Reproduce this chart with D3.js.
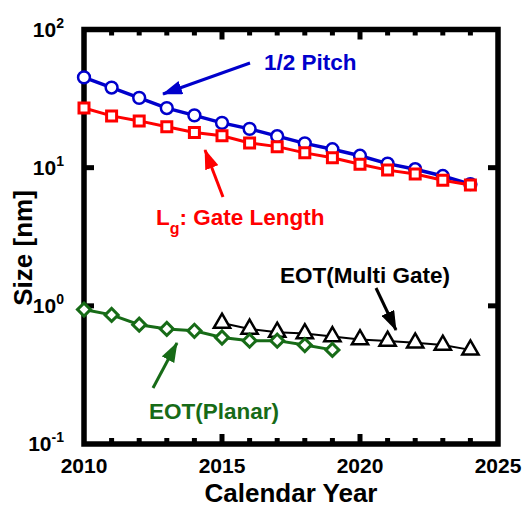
<!DOCTYPE html>
<html><head><meta charset="utf-8">
<script src="https://cdn.jsdelivr.net/npm/d3@7"></script>
<style>html,body{margin:0;padding:0;background:#fff;}svg{display:block;font-family:"Liberation Sans",Arial,sans-serif;font-weight:bold;}</style>
</head><body>
<svg id="c" width="525" height="509"></svg>
<script>
const years = [2010,2011,2012,2013,2014,2015,2016,2017,2018,2019,2020,2021,2022,2023,2024];
const halfPitch = [45,38,32,27,23.9,21.1,19.1,16.9,15,13.6,12.2,10.7,9.75,8.7,7.6];
const gateLength = [27,23.7,21.8,19.8,18,17,15.1,14.2,12.8,11.8,10.6,9.6,9.0,8.1,7.5];
const planarYears = [2010,2011,2012,2013,2014,2015,2016,2017,2018,2019];
const eotPlanar = [0.94,0.86,0.73,0.68,0.66,0.59,0.56,0.56,0.52,0.48];
const multiYears = [2015,2016,2017,2018,2019,2020,2021,2022,2023,2024];
const eotMulti = [0.75,0.68,0.645,0.63,0.60,0.57,0.556,0.54,0.52,0.48];
const xTickLabels = [2010,2015,2020,2025];
const yTickValues = [0.1,1,10,100];
const yTickExps = ["-1","0","1","2"];

const svg = d3.select("#c");
const L=84, R=498, T=29.5, B=444;
const x = d3.scaleLinear().domain([2010,2025]).range([L,R]);
const y = d3.scaleLog().domain([0.1,100]).range([B,T]);

const blue="#0000cc", red="#ff0000", green="#176b17", black="#000";

const defs = svg.append("defs");
function mk(id,col){
  defs.append("marker").attr("id",id).attr("markerUnits","userSpaceOnUse")
    .attr("viewBox","0 0 20 14").attr("refX",19).attr("refY",7)
    .attr("markerWidth",20).attr("markerHeight",14).attr("orient","auto")
    .append("path").attr("d","M0,0 L20,7 L0,14 Z").attr("fill",col);
}
mk("ab",blue); mk("ar",red); mk("ak",black); mk("ag",green);

const minorYears = d3.range(2010,2026);
const major = new Set([2015,2020]);
function xTicks(pos, dir){
  const g = svg.append("g");
  g.selectAll("line").data(minorYears.filter(v=>v>2010&&v<2025)).join("line")
    .attr("x1",d=>x(d)).attr("x2",d=>x(d))
    .attr("y1",pos).attr("y2",d=>pos+dir*(major.has(d)?10:6))
    .attr("stroke","#000").attr("stroke-width",5);
}
xTicks(T,1); xTicks(B,-1);
svg.append("g").selectAll("line").data([1,10]).join("line")
  .attr("x1",L).attr("x2",L+10).attr("y1",d=>y(d)).attr("y2",d=>y(d))
  .attr("stroke","#000").attr("stroke-width",5);
svg.append("g").selectAll("line").data([1,10]).join("line")
  .attr("x1",R).attr("x2",R-10).attr("y1",d=>y(d)).attr("y2",d=>y(d))
  .attr("stroke","#000").attr("stroke-width",5);

svg.append("rect").attr("x",L).attr("y",T).attr("width",R-L).attr("height",B-T)
  .attr("fill","none").attr("stroke","#000").attr("stroke-width",5.5);

svg.append("g").selectAll("text").data(xTickLabels).join("text")
  .attr("x",d=>x(d)).attr("y",473).attr("text-anchor","middle")
  .attr("font-size",21).text(d=>d);
const yl = svg.append("g").selectAll("text").data(yTickValues).join("text")
  .attr("x",64).attr("y",d=>y(d)+7).attr("text-anchor","end").attr("font-size",21);
yl.append("tspan").text("10");
yl.append("tspan").attr("font-size",14).attr("dy",-9).text((d,i)=>yTickExps[i]);

svg.append("text").attr("x",291).attr("y",502).attr("text-anchor","middle")
  .attr("font-size",26).text("Calendar Year");
svg.append("text").attr("transform","translate(32,248) rotate(-90)").attr("text-anchor","middle")
  .attr("font-size",26).text("Size [nm]");

function series(xs, vals, col, lw, sym, size, sw, rot){
  const line = d3.line().x((d,i)=>x(xs[i])).y(d=>y(d));
  svg.append("path").datum(vals).attr("d",line).attr("fill","none")
    .attr("stroke",col).attr("stroke-width",lw);
  svg.append("g").selectAll("path").data(vals).join("path")
    .attr("transform",(d,i)=>`translate(${x(xs[i])},${y(d)}) rotate(${rot||0})`)
    .attr("d",d3.symbol().type(sym).size(size)).attr("fill","#fff")
    .attr("stroke",col).attr("stroke-width",sw);
}
series(years, halfPitch, blue, 3.5, d3.symbolCircle, 110, 2.5);
series(years, gateLength, red, 3, d3.symbolSquare, 100, 3);
series(multiYears, eotMulti, black, 2, d3.symbolTriangle, 115, 2.5);
series(planarYears, eotPlanar, green, 3, d3.symbolSquare, 85, 3, 45);

function arrow(x1,y1,x2,y2,col,id){
  svg.append("line").attr("x1",x1).attr("y1",y1).attr("x2",x2).attr("y2",y2)
    .attr("stroke",col).attr("stroke-width",3).attr("marker-end",`url(#${id})`);
}
arrow(250,63,163,94,blue,"ab");
arrow(223,197,205,150,red,"ar");
arrow(376,288,396,330,black,"ak");
arrow(153,388,177,343,green,"ag");

svg.append("text").attr("x",264).attr("y",70).attr("font-size",22.5).attr("fill",blue).text("1/2 Pitch");
const lt = svg.append("text").attr("x",156).attr("y",225).attr("font-size",22.5).attr("fill",red);
lt.append("tspan").text("L");
lt.append("tspan").attr("font-size",16).attr("dy",9).text("g");
lt.append("tspan").attr("dy",-9).text(": Gate Length");
svg.append("text").attr("x",280).attr("y",283).attr("font-size",22.5).attr("fill",black).text("EOT(Multi Gate)");
svg.append("text").attr("x",149).attr("y",419).attr("font-size",22.5).attr("fill",green).text("EOT(Planar)");
</script>
</body></html>
